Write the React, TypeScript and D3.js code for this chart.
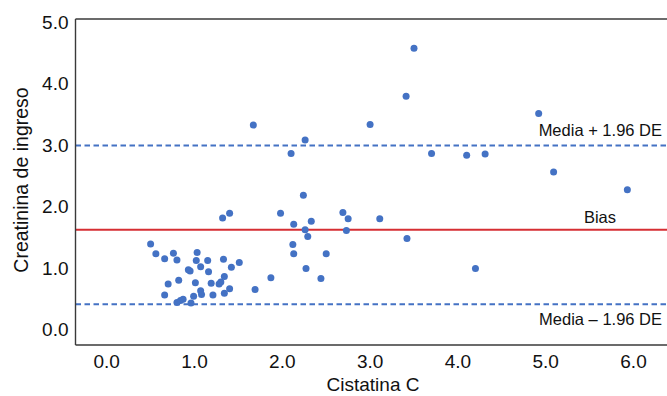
import React from "react";
import * as d3 from "d3";

const xValues = [0.50,0.56,0.66,0.76,0.80,1.03,1.02,1.15,1.07,0.93,0.95,1.16,1.33,1.42,1.51,0.82,0.70,1.01,1.19,1.28,1.30,1.34,0.66,1.07,1.08,1.21,1.34,1.40,1.69,1.87,0.99,0.80,0.84,0.87,0.96,1.32,1.40,1.98,2.24,2.13,2.33,2.26,2.29,2.12,2.13,2.50,2.27,2.44,2.69,2.75,2.73,3.11,3.50,3.41,1.67,3.00,2.26,2.10,3.70,4.10,4.31,4.92,5.09,5.93,4.20,3.42];
const yValues = [1.39,1.23,1.15,1.24,1.13,1.25,1.12,1.12,1.02,0.97,0.95,0.94,1.14,1.01,1.09,0.80,0.74,0.76,0.75,0.74,0.77,0.86,0.56,0.63,0.57,0.56,0.59,0.66,0.65,0.84,0.54,0.44,0.47,0.49,0.43,1.81,1.89,1.89,2.18,1.71,1.76,1.62,1.51,1.38,1.23,1.23,0.99,0.83,1.90,1.80,1.61,1.80,4.57,3.79,3.32,3.33,3.08,2.86,2.86,2.83,2.85,3.51,2.56,2.27,0.99,1.48];

const xTicks = [0, 1, 2, 3, 4, 5, 6];
const yTicks = [0, 1, 2, 3, 4, 5];
const upperLimit = 2.99;
const biasValue = 1.62;
const lowerLimit = 0.41;
const upperLabel = "Media + 1.96 DE";
const biasLabel = "Bias";
const lowerLabel = "Media \u2013 1.96 DE";
const xTitle = "Cistatina C";
const yTitle = "Creatinina de ingreso";

const W = 667;
const H = 396;
const frame = { left: 75.5, top: 19, right: 667, bottom: 345 };
const FONT = "'Liberation Sans', Arial, Helvetica, sans-serif";
const BLUE = "#4472C4";
const RED = "#D62E33";

export default function App() {
  const x = d3.scaleLinear().domain([0, 6]).range([106.7, 633.5]);
  const y = d3.scaleLinear().domain([0, 5]).range([329.5, 21.7]);
  const pts = xValues.map((v, i) => ({ x: v, y: yValues[i] }));
  return (
    <svg
      width={W}
      height={H}
      style={{ position: "absolute", left: 0, top: 0, background: "#fff" }}
      fontFamily={FONT}
    >
      <defs>
        <clipPath id="plotclip">
          <rect x={frame.left} y={frame.top} width={frame.right - frame.left} height={frame.bottom - frame.top} />
        </clipPath>
      </defs>
      <g clipPath="url(#plotclip)">
        <line x1={frame.left} x2={frame.right} y1={y(upperLimit)} y2={y(upperLimit)} stroke={BLUE} strokeWidth={2} strokeDasharray="5.5,3.5" />
        <line x1={frame.left} x2={frame.right} y1={y(lowerLimit)} y2={y(lowerLimit)} stroke={BLUE} strokeWidth={2} strokeDasharray="5.5,3.5" />
        <line x1={frame.left} x2={frame.right} y1={y(biasValue)} y2={y(biasValue)} stroke={RED} strokeWidth={2.2} />
        {pts.map((p, i) => (
          <circle key={i} cx={x(p.x)} cy={y(p.y)} r={3.5} fill={BLUE} />
        ))}
      </g>
      <line x1={frame.left} x2={frame.right} y1={frame.top} y2={frame.top} stroke="#3a3a3a" strokeWidth={1.4} />
      <line x1={frame.left} x2={frame.right} y1={frame.bottom} y2={frame.bottom} stroke="#3a3a3a" strokeWidth={1.4} />
      <line x1={frame.left} x2={frame.left} y1={frame.top} y2={frame.bottom} stroke="#3a3a3a" strokeWidth={1.4} />
      {xTicks.map((t) => (
        <text key={t} x={x(t)} y={368} textAnchor="middle" fontSize={19} fill="#111">
          {d3.format(".1f")(t)}
        </text>
      ))}
      {yTicks.map((t) => (
        <text key={t} x={68.5} y={y(t) + 6.8} textAnchor="end" fontSize={19} fill="#111">
          {d3.format(".1f")(t)}
        </text>
      ))}
      <text x={662} y={y(upperLimit) - 9.5} textAnchor="end" fontSize={16.5} fill="#111">{upperLabel}</text>
      <text x={600} y={y(biasValue) - 6.5} textAnchor="middle" fontSize={16.5} fill="#111">{biasLabel}</text>
      <text x={662} y={y(lowerLimit) + 21} textAnchor="end" fontSize={16.5} fill="#111">{lowerLabel}</text>
      <text x={373} y={391} textAnchor="middle" fontSize={19} fill="#111">{xTitle}</text>
      <text transform={`translate(28,180) rotate(-90)`} textAnchor="middle" fontSize={19.5} fill="#111">{yTitle}</text>
    </svg>
  );
}
